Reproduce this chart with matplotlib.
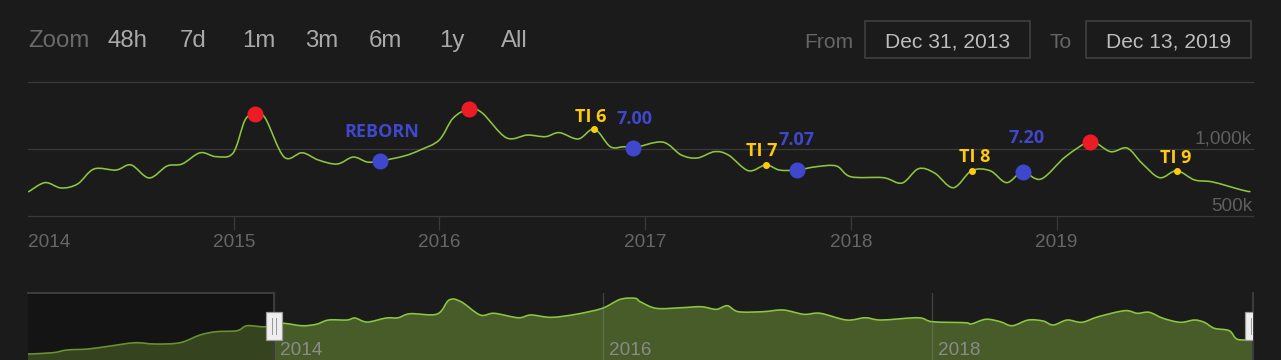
import matplotlib
matplotlib.use("Agg")
import matplotlib.pyplot as plt
import numpy as np
from matplotlib.path import Path
from matplotlib.patches import PathPatch, Rectangle
import matplotlib.transforms as mtransforms

# ---------------- data ----------------
main_years = [2014.003, 2014.083, 2014.161, 2014.241, 2014.321, 2014.428, 2014.501, 2014.589,
              2014.676, 2014.749, 2014.837, 2014.914, 2014.997, 2015.055, 2015.104, 2015.153,
              2015.245, 2015.333, 2015.411, 2015.503, 2015.581, 2015.649, 2015.712, 2015.829,
              2015.907, 2015.999, 2016.067, 2016.145, 2016.208, 2016.325, 2016.427, 2016.515,
              2016.583, 2016.675, 2016.753, 2016.831, 2016.899, 2016.943, 2017.084, 2017.176,
              2017.254, 2017.337, 2017.405, 2017.502, 2017.587, 2017.653, 2017.738, 2017.833,
              2017.930, 2018.000, 2018.158, 2018.249, 2018.329, 2018.407, 2018.498, 2018.587,
              2018.677, 2018.757, 2018.835, 2018.925, 2019.044, 2019.165, 2019.263, 2019.343,
              2019.414, 2019.501, 2019.584, 2019.671, 2019.759, 2019.900, 2019.940]
main_players_k = [681, 749, 709, 739, 851, 843, 881, 784,
                  873, 888, 972, 943, 970, 1216, 1261, 1231,
                  940, 972, 918, 888, 940, 903, 910, 948,
                  993, 1067, 1231, 1299, 1269, 1084, 1104, 1092,
                  1122, 1075, 1149, 1017, 1017, 1007, 1052, 955,
                  933, 980, 955, 838, 881, 843, 843, 868,
                  873, 793, 786, 746, 853, 821, 711, 838,
                  838, 749, 828, 776, 943, 1052, 980, 1007,
                  896, 786, 838, 769, 754, 694, 682]

peak_years = [2015.104, 2016.145, 2019.165]
peak_players_k = [1261, 1299, 1052]

patch_years = [2015.712, 2016.943, 2017.738, 2018.835]
patch_players_k = [910, 1007, 843, 828]
patch_labels = ["REBORN", "7.00", "7.07", "7.20"]

ti_years = [2016.753, 2017.587, 2018.587, 2019.584]
ti_players_k = [1149, 881, 838, 838]
ti_labels = ["TI 6", "TI 7", "TI 8", "TI 9"]

nav_years = [2012.505, 2012.657, 2012.742, 2012.870, 2013.004, 2013.156, 2013.277, 2013.429,
             2013.551, 2013.648, 2013.776, 2013.837, 2013.946, 2014.049, 2014.171, 2014.257,
             2014.333, 2014.445, 2014.494, 2014.567, 2014.683, 2014.756, 2014.829, 2014.993,
             2015.066, 2015.139, 2015.255, 2015.340, 2015.486, 2015.563, 2015.687, 2015.836,
             2015.997, 2016.107, 2016.198, 2016.229, 2016.326, 2016.478, 2016.600, 2016.691,
             2016.758, 2016.825, 2016.974, 2017.098, 2017.223, 2017.323, 2017.484, 2017.597,
             2017.694, 2017.919, 2018.004, 2018.205, 2018.241, 2018.330, 2018.418, 2018.491,
             2018.588, 2018.679, 2018.740, 2018.825, 2018.914, 2019.014, 2019.175, 2019.251,
             2019.324, 2019.409, 2019.513, 2019.598, 2019.659, 2019.720, 2019.811, 2019.860,
             2019.955]
nav_players_k = [471, 491, 531, 546, 590, 639, 620, 639,
                 754, 803, 818, 892, 877, 928, 892, 913,
                 977, 977, 1007, 947, 1007, 1011, 1071, 1066,
                 1275, 1249, 1052, 1077, 1011, 1052, 1017, 1062,
                 1151, 1285, 1300, 1249, 1151, 1160, 1175, 1136,
                 1190, 1101, 1101, 1126, 1062, 1077, 977, 1011,
                 977, 1011, 952, 937, 918, 988, 952, 892,
                 977, 962, 903, 977, 943, 1026, 1116, 1077,
                 1092, 1002, 943, 977, 943, 854, 818, 690,
                 690]

year_ticks = [2014, 2015, 2016, 2017, 2018, 2019]
nav_year_ticks = [2014, 2016, 2018]
y_ticks_k = [500, 1000]
y_tick_labels = ["500k", "1,000k"]
zoom_buttons = ["48h", "7d", "1m", "3m", "6m", "1y", "All"]
range_from = "Dec 31, 2013"
range_to = "Dec 13, 2019"
selection = (2014.0, 2019.955)
nav_range = (2012.505, 2019.955)

# ---------------- style ----------------
W, H = 1281, 360
BG = "#1b1b1b"
GRID = "#3a3a3a"
LINE = "#8cc63f"
RED = "#ed1c24"
BLUE = "#3f48cc"
YELLOW = "#ffc90e"
UI_FONT = "Liberation Sans"
ANN_FONT = "Open Sans"
PT = 72 / 100.0  # points per pixel


def fx(px):
    return px / W


def fy(py):
    return 1 - py / H


def smooth_path(x, y, close_to=None):
    x = np.asarray(x, float)
    y = np.asarray(y, float)
    n = len(x)
    verts = [(x[0], y[0])]
    codes = [Path.MOVETO]
    for i in range(n - 1):
        xa, ya = (x[i - 1], y[i - 1]) if i > 0 else (x[i], y[i])
        xb, yb = (x[i + 2], y[i + 2]) if i + 2 < n else (x[i + 1], y[i + 1])
        c1 = (x[i] + (x[i + 1] - xa) / 6, y[i] + (y[i + 1] - ya) / 6)
        c2 = (x[i + 1] - (xb - x[i]) / 6, y[i + 1] - (yb - y[i]) / 6)
        verts += [c1, c2, (x[i + 1], y[i + 1])]
        codes += [Path.CURVE4] * 3
    if close_to is not None:
        verts += [(x[-1], close_to), (x[0], close_to), (x[0], y[0])]
        codes += [Path.LINETO, Path.LINETO, Path.CLOSEPOLY]
    return Path(verts, codes)


fig = plt.figure(figsize=(W / 100, H / 100), dpi=100, facecolor=BG)

# ---------------- header ----------------
fig.text(fx(28.5), fy(47), "Zoom", color="#6a6a6a", fontsize=24 * PT,
         family=UI_FONT, va="baseline", ha="left")
for lab, px in zip(zoom_buttons, [107, 180, 242, 305, 369, 439, 501]):
    fig.text(fx(px), fy(47), lab, color="#a9a9a9", fontsize=24 * PT,
             family=UI_FONT, va="baseline", ha="left")
fig.text(fx(804), fy(48), "From", color="#666666", fontsize=21 * PT,
         family=UI_FONT, va="baseline", ha="left")
fig.text(fx(1050), fy(48), "To", color="#666666", fontsize=21 * PT,
         family=UI_FONT, va="baseline", ha="left")
for (x0, x1), lab in zip([(865, 1030), (1086, 1251)], [range_from, range_to]):
    fig.patches.append(Rectangle((fx(x0), fy(58)), fx(x1 - x0), 37 / H,
                                 transform=fig.transFigure, facecolor="none",
                                 edgecolor="#444444", lw=1.5 * PT))
    fig.text(fx((x0 + x1) / 2), fy(48), lab, color="#bdbdbd", fontsize=21 * PT,
             family=UI_FONT, va="baseline", ha="center")

# ---------------- main chart ----------------
ax = fig.add_axes([fx(28), fy(216), fx(1253 - 28), 134 / H])
ax.set_facecolor("none")
ax.set_xlim(*selection)
ax.set_ylim(500, 1500)
for s in ax.spines.values():
    s.set_visible(False)
for v in [500, 1000, 1500]:
    ax.axhline(v, color=GRID, lw=1.3 * PT, zorder=1, clip_on=False)

ax.set_yticks([])
ax.set_xticks(year_ticks)
ax.set_xticklabels([str(y) for y in year_ticks], family=UI_FONT)
ax.tick_params(axis="x", length=14 * PT, width=1.2 * PT, color=GRID,
               labelcolor="#666666", labelsize=19 * PT, pad=3)
ax.get_xticklabels()[0].set_horizontalalignment("left")
ax.xaxis.get_major_ticks()[0].tick1line.set_visible(False)

for v, lab in zip(y_ticks_k, y_tick_labels):
    ax.annotate(lab, xy=(1, v), xycoords=("axes fraction", "data"),
                xytext=(-1, 5), textcoords="offset pixels", ha="right",
                va="baseline", color="#5e5e5e", fontsize=19 * PT, family=UI_FONT)

ax.add_patch(PathPatch(smooth_path(main_years, main_players_k), fill=False,
                       edgecolor=LINE, lw=1.6 * PT, zorder=3, capstyle="round"))

ax.plot(peak_years, peak_players_k, "o", ms=16 * PT, color=RED, mew=0, zorder=5)
ax.plot(patch_years, patch_players_k, "o", ms=16 * PT, color=BLUE, mew=0, zorder=5)
ax.plot(ti_years, ti_players_k, "o", ms=7 * PT, color=YELLOW, mew=0, zorder=5)

patch_offsets = [(1.5, 24), (1.5, 24), (-0.5, 25), (3.5, 29)]
ti_offsets = [(-3.5, 7), (-4.5, 9), (3.5, 9), (-0.5, 8)]
for yr, v, lab, off in zip(patch_years, patch_players_k, patch_labels, patch_offsets):
    ax.annotate(lab, xy=(yr, v), xytext=off, textcoords="offset pixels",
                ha="center", va="baseline", color=BLUE, fontsize=18 * PT,
                fontweight="bold", family=ANN_FONT, zorder=6)
for yr, v, lab, off in zip(ti_years, ti_players_k, ti_labels, ti_offsets):
    ax.annotate(lab, xy=(yr, v), xytext=off, textcoords="offset pixels",
                ha="center", va="baseline", color=YELLOW, fontsize=18 * PT,
                fontweight="bold", family=ANN_FONT, zorder=6)

# ---------------- navigator ----------------
nav = fig.add_axes([fx(28), 0, fx(1253 - 28), 67 / H])
nav.set_facecolor("none")
nav.set_xlim(*nav_range)
nav.set_ylim(382, 1379)
nav.axis("off")
nav.add_patch(PathPatch(smooth_path(nav_years, nav_players_k, close_to=300),
                        facecolor="#485c2a", edgecolor="none", zorder=2))
nav.add_patch(PathPatch(smooth_path(nav_years, nav_players_k), fill=False,
                        edgecolor=LINE, lw=1.6 * PT, zorder=3))
for yr in nav_year_ticks:
    nav.axvline(yr, color="#8a8a8a", alpha=0.35, lw=1.3 * PT, zorder=3.5)
    nav.annotate(str(yr), xy=(yr, 0), xycoords=("data", "axes fraction"),
                 xytext=(6, 5), textcoords="offset pixels", ha="left", va="baseline",
                 color="#8a8a8a", fontsize=19 * PT, family=UI_FONT, zorder=4)
nav.axvspan(nav_range[0], selection[0], color="black", alpha=0.25, lw=0, zorder=4.5)

blend = mtransforms.blended_transform_factory(nav.transData, nav.transAxes)
nav.plot([nav_range[0], selection[0], selection[0]], [1, 1, 0], transform=blend,
         color="#3c3c3c", lw=2 * PT, clip_on=False, zorder=5, solid_joinstyle="miter")
nav.plot([selection[1], selection[1]], [1, 0], transform=blend,
         color="#3c3c3c", lw=2 * PT, clip_on=False, zorder=5)

yr_per_px = (nav_range[1] - nav_range[0]) / (1253 - 28)
hw = 8 * yr_per_px
for sx in selection:
    nav.add_patch(Rectangle((sx - hw, (360 - 340) / 67), 2 * hw, 28 / 67, transform=blend,
                            facecolor="#eeeeee", edgecolor="#9a9a9a", lw=1.2 * PT,
                            zorder=6, clip_on=True))
    for dx in (-2, 2):
        nav.plot([sx + dx * yr_per_px] * 2, [(360 - 334) / 67, (360 - 318) / 67],
                 transform=blend, color="#9a9a9a", lw=1 * PT, zorder=7)

fig.savefig("out.png", dpi=100, facecolor=BG)
